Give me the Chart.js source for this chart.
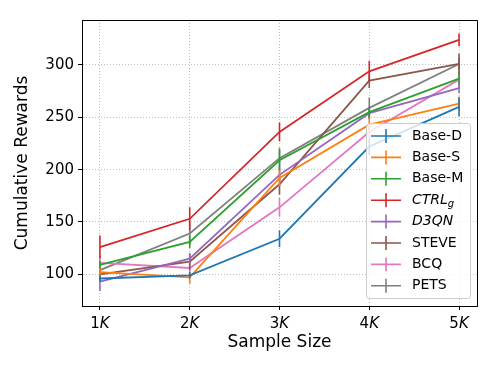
<!DOCTYPE html>
<html>
<head>
<meta charset="utf-8">
<script src="https://cdn.jsdelivr.net/npm/chart.js@4.4.0/dist/chart.umd.min.js"></script>
<style>
  body { margin: 0; background: #fff; }
  #chart { display: block; }
</style>
</head>
<body>
<canvas id="chart" width="498" height="373"></canvas>
<script>
// sample sizes (in K) and tick labels
const sampleSizes = [1, 2, 3, 4, 5];
const yTicks = [100, 150, 200, 250, 300];

// cumulative rewards per method
const baseD = [96, 99, 134, 222, 260];
const baseS = [102, 97, 192, 243, 263];
const baseM = [109, 131, 209, 255, 287];
const ctrlG = [126, 153, 236, 294, 324];
const d3qn = [93, 115, 195, 254, 278];
const steve = [100, 112, 186, 285, 301];
const bcq = [111, 106, 164, 236, 286];
const pets = [104, 139, 211, 259, 301];

// error bar half-widths
const baseDErr = [3, 3, 8, 8, 9];
const baseSErr = [4, 6, 8, 6, 7];
const baseMErr = [4, 6, 10, 5, 5];
const ctrlGErr = [11, 11, 9, 10, 6];
const d3qnErr = [9, 5, 6, 6, 5];
const steveErr = [6, 8, 10, 7, 10];
const bcqErr = [7, 5, 9, 7, 8];
const petsErr = [5, 11, 10, 10, 6];

const series = [
  { label: 'Base-D', values: baseD, err: baseDErr, color: '#1f77b4' },
  { label: 'Base-S', values: baseS, err: baseSErr, color: '#ff7f0e' },
  { label: 'Base-M', values: baseM, err: baseMErr, color: '#2ca02c' },
  { label: 'CTRL_g', values: ctrlG, err: ctrlGErr, color: '#d62728' },
  { label: 'D3QN', values: d3qn, err: d3qnErr, color: '#9467bd' },
  { label: 'STEVE', values: steve, err: steveErr, color: '#8c564b' },
  { label: 'BCQ', values: bcq, err: bcqErr, color: '#e377c2' },
  { label: 'PETS', values: pets, err: petsErr, color: '#7f7f7f' }
];

const FONT = "'DejaVu Sans', sans-serif";

// vertical error bars, drawn right after each line
const errorBars = {
  id: 'errorBars',
  afterDatasetDraw(chart, args) {
    const ds = chart.data.datasets[args.index];
    const y = chart.scales.y;
    const ctx = chart.ctx;
    ctx.save();
    ctx.strokeStyle = ds.borderColor;
    ctx.lineWidth = 1.6;
    args.meta.data.forEach((pt, i) => {
      const v = ds.data[i].y;
      const e = ds.errors[i];
      ctx.beginPath();
      ctx.moveTo(pt.x, y.getPixelForValue(v - e));
      ctx.lineTo(pt.x, y.getPixelForValue(v + e));
      ctx.stroke();
    });
    ctx.restore();
  }
};

// top/right frame, x tick labels with italic K, legend box
const extras = {
  id: 'extras',
  afterDraw(chart) {
    const ctx = chart.ctx;
    const a = chart.chartArea;
    const x = chart.scales.x;
    ctx.save();
    ctx.strokeStyle = '#000';
    ctx.lineWidth = 1;
    ctx.beginPath();
    ctx.moveTo(a.left, a.top + 0.5);
    ctx.lineTo(a.right + 0.5, a.top + 0.5);
    ctx.lineTo(a.right + 0.5, a.bottom);
    ctx.stroke();

    // x tick labels "nK"
    ctx.fillStyle = '#000';
    ctx.textBaseline = 'middle';
    sampleSizes.forEach(v => {
      const px = x.getPixelForValue(v);
      const num = String(v);
      ctx.font = '15px ' + FONT;
      const w1 = ctx.measureText(num).width;
      ctx.font = 'italic 15px ' + FONT;
      const w2 = ctx.measureText('K').width;
      const left = px - (w1 + w2) / 2;
      ctx.font = '15px ' + FONT;
      ctx.textAlign = 'left';
      ctx.fillText(num, left, 324);
      ctx.font = 'italic 15px ' + FONT;
      ctx.fillText('K', left + w1, 324);
    });

    // legend
    const bx = 366, by = 123, bw = 104, bh = 175;
    ctx.beginPath();
    ctx.roundRect(bx + 0.5, by + 0.5, bw, bh, 3);
    ctx.fillStyle = 'rgba(255,255,255,0.8)';
    ctx.fill();
    ctx.strokeStyle = '#cccccc';
    ctx.lineWidth = 1;
    ctx.stroke();

    series.forEach((s, i) => {
      const cy = 136 + i * 21.4;
      ctx.strokeStyle = s.color;
      ctx.lineWidth = 1.6;
      ctx.beginPath();
      ctx.moveTo(371, cy);
      ctx.lineTo(401, cy);
      ctx.moveTo(386, cy - 7);
      ctx.lineTo(386, cy + 7);
      ctx.stroke();
      ctx.fillStyle = '#000';
      ctx.textAlign = 'left';
      ctx.textBaseline = 'middle';
      if (s.label === 'CTRL_g') {
        ctx.font = 'italic 14px ' + FONT;
        ctx.fillText('CTRL', 412, cy);
        const w = ctx.measureText('CTRL').width;
        ctx.font = 'italic 10px ' + FONT;
        ctx.fillText('g', 412 + w, cy + 4);
      } else if (s.label === 'D3QN') {
        ctx.font = 'italic 14px ' + FONT;
        ctx.fillText('D3QN', 412, cy);
      } else {
        ctx.font = '14px ' + FONT;
        ctx.fillText(s.label, 412, cy);
      }
    });
    ctx.restore();
  }
};

const gridOpts = {
  color: '#b0b0b0',
  lineWidth: 0.8,
  tickColor: '#000',
  tickBorderDash: [],
  tickWidth: 1,
  tickLength: 4
};
const borderOpts = { display: true, color: '#000', width: 1, dash: [1, 2] };

new Chart(document.getElementById('chart'), {
  type: 'line',
  data: {
    datasets: series.map(s => ({
      label: s.label,
      data: sampleSizes.map((v, i) => ({ x: v, y: s.values[i] })),
      errors: s.err,
      borderColor: s.color,
      backgroundColor: s.color,
      borderWidth: 1.8,
      pointRadius: 0,
      tension: 0,
      fill: false
    }))
  },
  options: {
    responsive: false,
    animation: false,
    devicePixelRatio: 1,
    layout: { padding: { top: 20, right: 21, left: 0, bottom: 0 } },
    plugins: {
      legend: { display: false },
      tooltip: { enabled: false }
    },
    scales: {
      x: {
        type: 'linear',
        min: 0.8,
        max: 5.2,
        afterBuildTicks: scale => { scale.ticks = sampleSizes.map(v => ({ value: v })); },
        afterFit: scale => { scale.height = 67; },
        grid: gridOpts,
        border: borderOpts,
        ticks: { display: false },
        title: {
          display: true,
          text: 'Sample Size',
          color: '#000',
          font: { family: FONT, size: 17 },
          padding: { bottom: 20 }
        }
      },
      y: {
        type: 'linear',
        min: 69.7,
        max: 343,
        afterBuildTicks: scale => { scale.ticks = yTicks.map(v => ({ value: v })); },
        afterFit: scale => { scale.width = 82; },
        grid: gridOpts,
        border: borderOpts,
        ticks: {
          color: '#000',
          padding: 4,
          font: { family: FONT, size: 15 }
        },
        title: {
          display: true,
          text: 'Cumulative Rewards',
          color: '#000',
          font: { family: FONT, size: 17 },
          padding: { top: 12 }
        }
      }
    }
  },
  plugins: [errorBars, extras]
});
</script>
</body>
</html>
